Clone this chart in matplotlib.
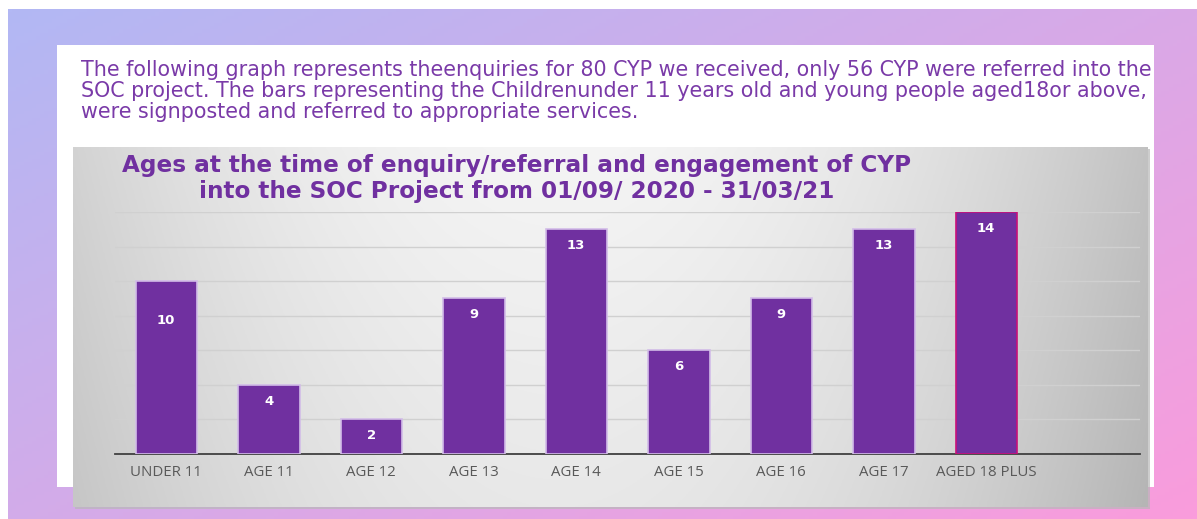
import matplotlib.pyplot as plt
import matplotlib.colors as mcolors
from matplotlib.patches import Rectangle
import numpy as np


categories = ["UNDER 11", "AGE 11", "AGE 12", "AGE 13", "AGE 14",
              "AGE 15", "AGE 16", "AGE 17", "AGED 18 PLUS"]
counts = [10, 4, 2, 9, 13, 6, 9, 13, 14]

intro_lines = [
    "The following graph represents theenquiries for 80 CYP we received, only 56 CYP were referred into the",
    "SOC project. The bars representing the Childrenunder 11 years old and young people aged18or above,",
    "were signposted and referred to appropriate services.",
]
title_lines = [
    "Ages at the time of enquiry/referral and engagement of CYP",
    "into the SOC Project from 01/09/ 2020 - 31/03/21",
]

purple = "#7030a0"
W, H = 1197, 519


def fx(px):
    return px / W


def fy(py):
    return 1 - py / H


fig = plt.figure(figsize=(W / 100, H / 100), dpi=100)
fig.patch.set_facecolor("white")

# pastel background gradient (lavender -> pink)
bg = fig.add_axes([fx(8), 0, 1 - fx(8), fy(9)])
bg.set_axis_off()
gx, gy = np.meshgrid(np.linspace(0, 1, 300), np.linspace(0, 1, 150))
t = 0.55 * gx + 0.45 * gy
c0 = np.array(mcolors.to_rgb("#b2b8f4"))
c1 = np.array(mcolors.to_rgb("#fa9cdc"))
img = c0[None, None, :] * (1 - t[..., None]) + c1[None, None, :] * t[..., None]
bg.imshow(img, aspect="auto", extent=(0, 1, 1, 0))
bg.set_xlim(0, 1)
bg.set_ylim(1, 0)

# white card
fig.patches.append(Rectangle((fx(57), fy(487)), fx(1154) - fx(57), fy(45) - fy(487),
                             transform=fig.transFigure, facecolor="white",
                             edgecolor="none", zorder=1))

for i, line in enumerate(intro_lines):
    fig.text(fx(81), fy(76 + 21 * i), line, color="#7a3aa8", fontsize=14.9,
             family="DejaVu Sans", va="baseline", ha="left", zorder=5)

# grey chart panel with shadow
fig.patches.append(Rectangle((fx(75), fy(509)), fx(1150) - fx(75), fy(149) - fy(509),
                             transform=fig.transFigure, facecolor="#b8b8b8",
                             edgecolor="none", zorder=2, alpha=0.7))
panel = fig.add_axes([fx(73), fy(507), fx(1148) - fx(73), fy(147) - fy(507)], zorder=3)
panel.set_axis_off()
px_, py_ = np.meshgrid(np.linspace(0, 1, 400), np.linspace(0, 1, 200))
shade = 0.96 - 0.20 * ((px_ - 0.45) / 0.55) ** 2 - 0.05 * py_
shade = np.clip(shade, 0, 1)
panel.imshow(np.dstack([shade] * 3), aspect="auto", extent=(0, 1, 1, 0))
panel.set_xlim(0, 1)
panel.set_ylim(1, 0)

for i, line in enumerate(title_lines):
    fig.text(fx(517), fy(172 + 26 * i), line, color=purple, fontsize=16.7,
             family="DejaVu Sans", weight="bold", va="baseline", ha="center", zorder=6)

# bar chart
ax = fig.add_axes([fx(115), fy(454), fx(1140) - fx(115), fy(212) - fy(454)], zorder=4)
ax.patch.set_alpha(0)
x = np.arange(len(categories))
edges = ["#d2bce8"] * (len(categories) - 1) + ["#c8107a"]
bars = ax.bar(x, counts, 0.6, color=purple, edgecolor=edges, linewidth=1.2, zorder=3)

for i, (b, v) in enumerate(zip(bars, counts)):
    drop = 24 if i == 0 else 7
    ax.annotate(str(v), (b.get_x() + b.get_width() / 2, v), xytext=(0, -drop),
                textcoords="offset points", ha="center", va="top",
                color="white", fontsize=9.5, weight="bold", family="DejaVu Sans", zorder=4)

ax.set_xlim(-0.5, 9.5)
ax.set_ylim(0, 14)
ax.set_yticks(np.arange(0, 15, 2))
ax.yaxis.grid(True, color="#d0d0d0", lw=1)
ax.set_axisbelow(True)
ax.tick_params(axis="y", left=False, labelleft=False)
ax.tick_params(axis="x", length=0, pad=8, labelsize=10.8, labelcolor="#595959")
ax.set_xticks(x)
ax.set_xticklabels(categories, family="Open Sans")
for s in ["top", "right", "left"]:
    ax.spines[s].set_visible(False)
ax.spines["bottom"].set_color("#404040")
ax.spines["bottom"].set_linewidth(1.3)

fig.savefig("out.png", dpi=100)
